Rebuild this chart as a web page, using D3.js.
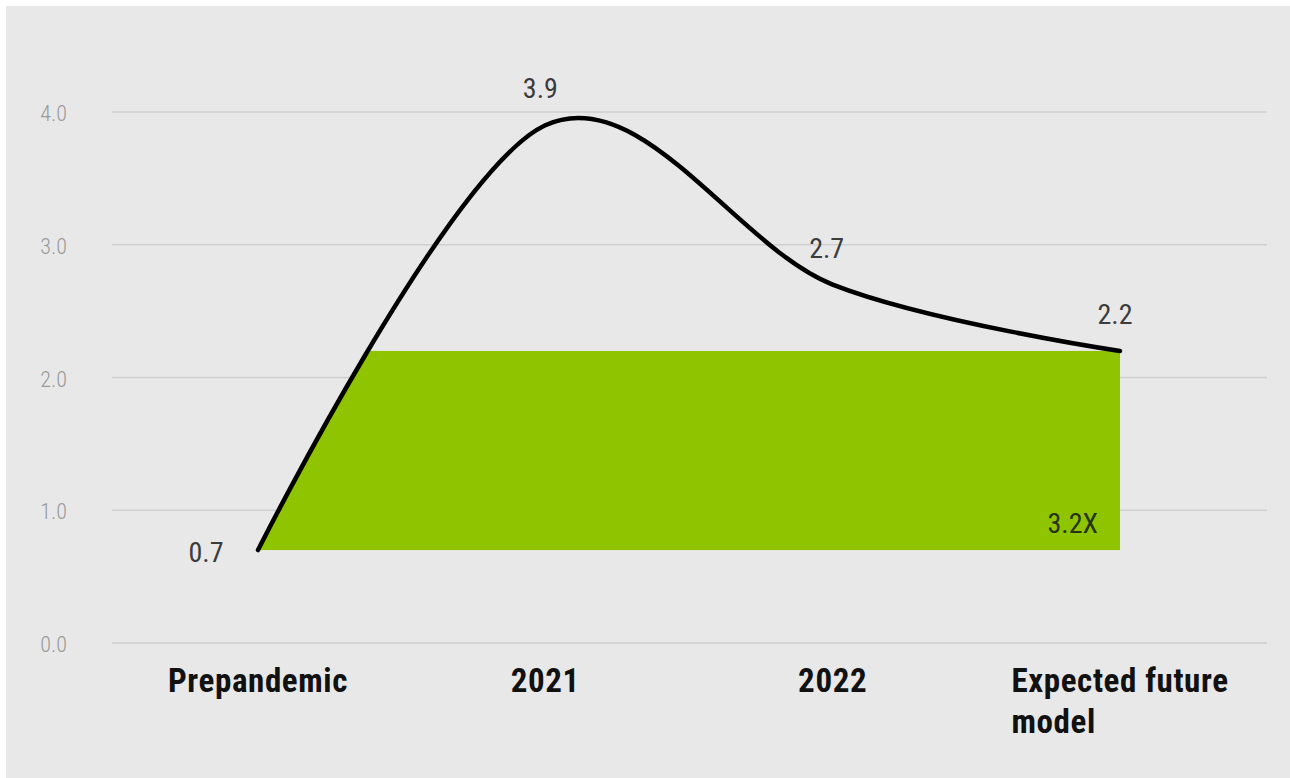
<!DOCTYPE html>
<html>
<head>
<meta charset="utf-8">
<script src="https://cdn.jsdelivr.net/npm/d3@7"></script>
<style>
  html, body { margin: 0; padding: 0; background: #ffffff; }
  svg { display: block; }
</style>
</head>
<body>
<svg id="chart" width="1290" height="778"></svg>
<script>
// Categories along the x axis (label lines) and the series values
const categories = ["Prepandemic", "2021", "2022", "Expected future model"];
const categoryLines = [["Prepandemic"], ["2021"], ["2022"], ["Expected future", "model"]];
const values = [0.7, 3.9, 2.7, 2.2];
const valueLabels = ["0.7", "3.9", "2.7", "2.2"];
const yTicks = [0, 1, 2, 3, 4];
const multipleLabel = "3.2X";

const svg = d3.select("#chart");
const W = 1290, H = 778;

svg.append("rect")
  .attr("x", 6).attr("y", 6).attr("width", W - 6).attr("height", H - 6)
  .attr("fill", "#e8e8e8");

const x = d3.scalePoint().domain(categories).range([258, 1120]);
const y = d3.scaleLinear().domain([0, 4]).range([643, 112]);

const gridLeft = 112, gridRight = 1267;
const narrow = "'Roboto Condensed', 'Liberation Sans Narrow', 'DejaVu Sans Condensed', 'Roboto', sans-serif";

// horizontal gridlines and y tick labels
const yAxis = svg.append("g");
yAxis.selectAll("line").data(yTicks).join("line")
  .attr("x1", gridLeft).attr("x2", gridRight)
  .attr("y1", d => y(d)).attr("y2", d => y(d))
  .attr("stroke", "#cfcfcf").attr("stroke-width", 1.5);
yAxis.selectAll("text").data(yTicks).join("text")
  .attr("x", 67).attr("y", d => y(d) + 9)
  .attr("text-anchor", "end")
  .attr("font-family", narrow).attr("font-weight", 300).attr("font-size", 22)
  .attr("fill", "#999999")
  .text(d => d3.format(".1f")(d));

const pts = categories.map((c, i) => [x(c), y(values[i])]);
const curve = d3.curveCardinal.tension(0);

// green band from the starting value up to the final value, kept under the curve
const clipArea = d3.area().x(d => d[0]).y0(y(0)).y1(d => d[1]).curve(curve);
svg.append("clipPath").attr("id", "under-curve")
  .append("path").attr("d", clipArea(pts));

const lo = values[0], hi = values[values.length - 1];
svg.append("rect")
  .attr("x", x(categories[0]))
  .attr("width", x(categories[categories.length - 1]) - x(categories[0]))
  .attr("y", y(hi))
  .attr("height", y(lo) - y(hi))
  .attr("fill", "#8fc400")
  .attr("clip-path", "url(#under-curve)");

svg.append("text")
  .attr("x", x(categories[categories.length - 1]) - 22)
  .attr("y", y(lo) - 17)
  .attr("text-anchor", "end")
  .attr("font-family", narrow).attr("font-size", 28)
  .attr("fill", "#26330f")
  .text(multipleLabel);

// the curve
const line = d3.line().x(d => d[0]).y(d => d[1]).curve(curve);
svg.append("path")
  .attr("d", line(pts))
  .attr("fill", "none")
  .attr("stroke", "#000")
  .attr("stroke-width", 4.5)
  .attr("stroke-linecap", "round");

// value labels
const labelOffsets = [[-52, 12], [-5, -27], [-6, -27], [-5, -27]];
svg.selectAll("text.val").data(values).join("text")
  .attr("class", "val")
  .attr("x", (d, i) => x(categories[i]) + labelOffsets[i][0])
  .attr("y", (d, i) => y(d) + labelOffsets[i][1])
  .attr("text-anchor", "middle")
  .attr("font-family", narrow).attr("font-size", 28)
  .attr("fill", "#3c3c3c")
  .text((d, i) => valueLabels[i]);

// category labels
const cat = svg.append("g");
categoryLines.forEach((lines, i) => {
  const t = cat.append("text")
    .attr("font-family", narrow).attr("font-weight", "bold")
    .attr("font-size", 33).attr("letter-spacing", 0.6).attr("fill", "#111");
  lines.forEach((ln, j) => {
    t.append("tspan").attr("y", 692 + j * 41).text(ln);
  });
  const widths = [];
  t.selectAll("tspan").each(function () { widths.push(this.getComputedTextLength()); });
  const left = x(categories[i]) - d3.max(widths) / 2;
  t.selectAll("tspan").attr("x", left);
});
</script>
</body>
</html>
